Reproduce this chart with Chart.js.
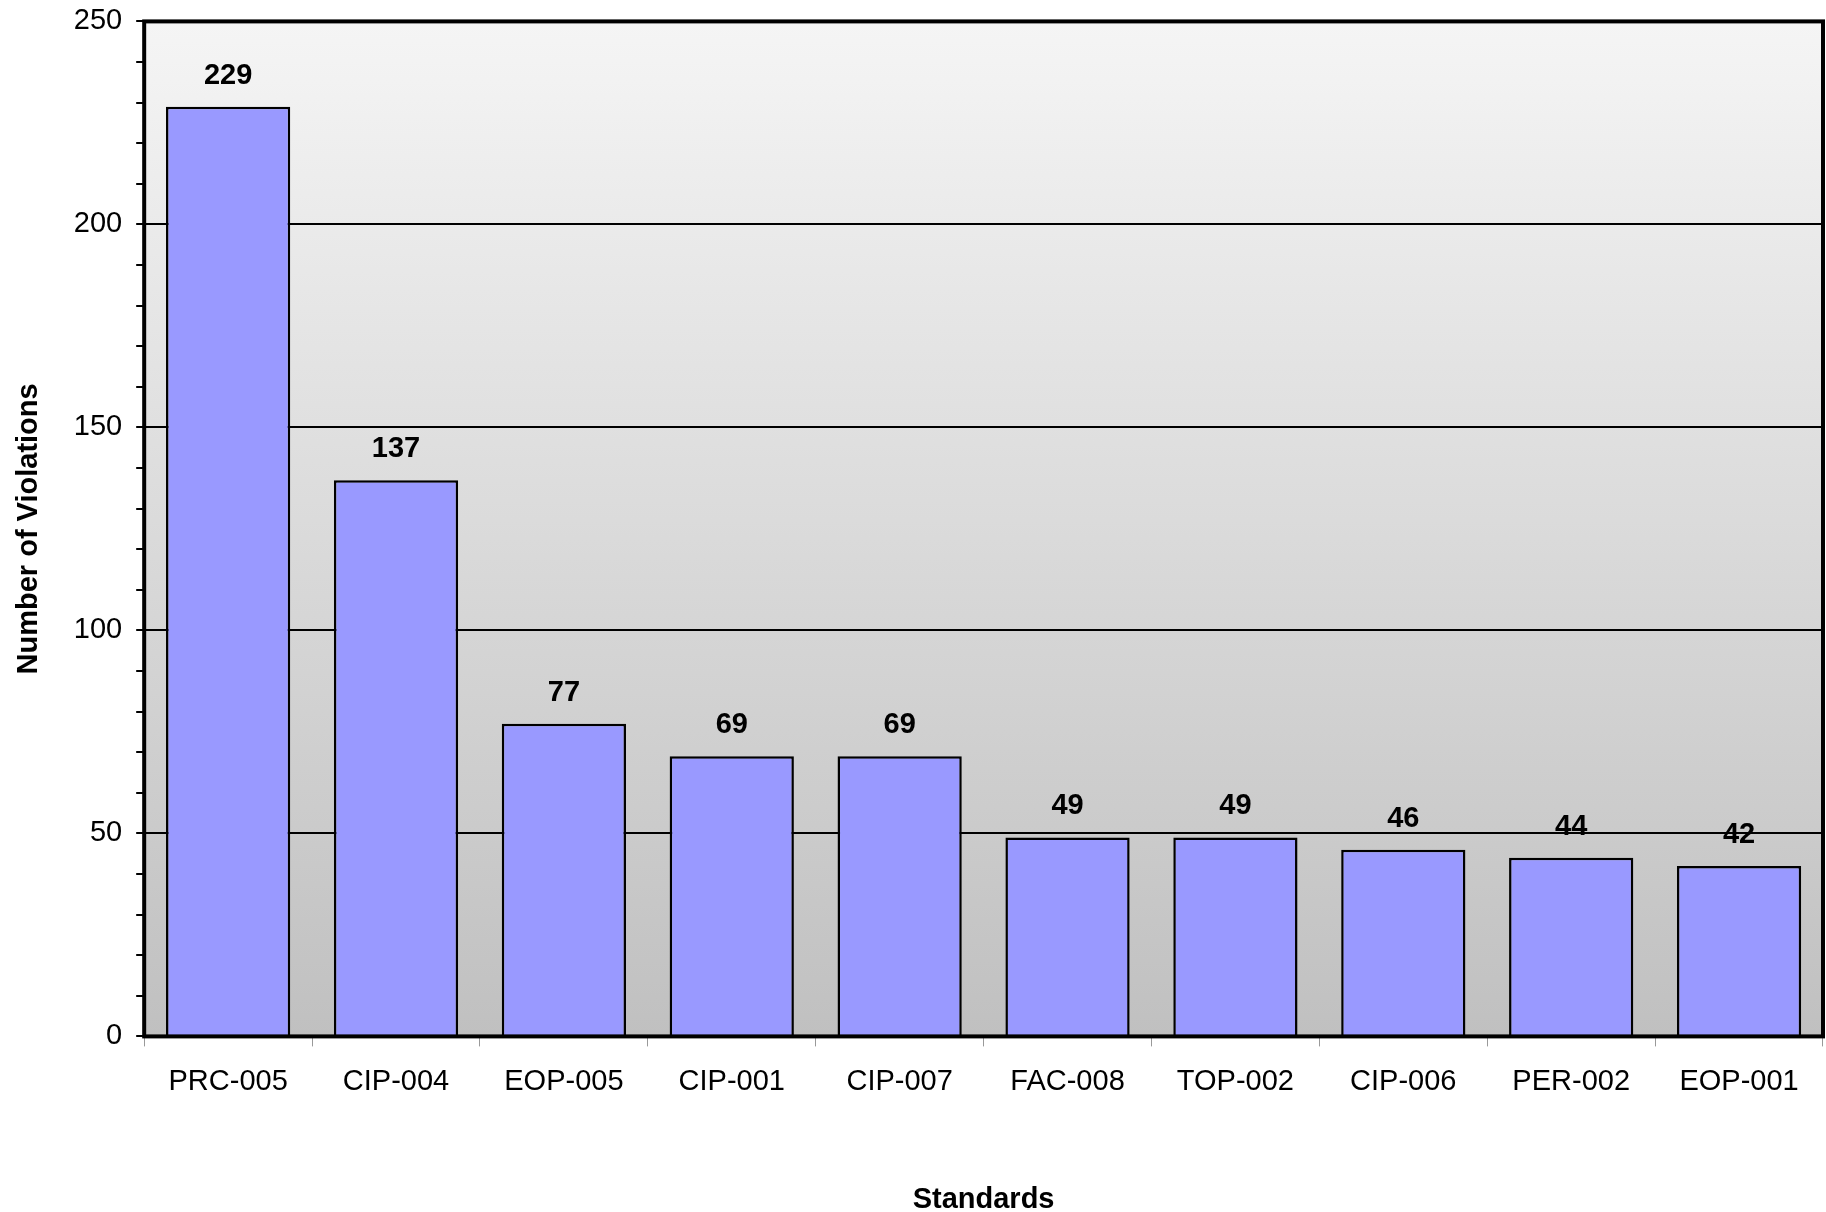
<!DOCTYPE html>
<html lang="en">
<head>
    <meta charset="UTF-8">
    <title>Violations by Standard</title>
    <script src="https://cdn.jsdelivr.net/npm/chart.js"></script>
    <style>
        html, body { margin: 0; padding: 0; background: #fff; overflow: hidden; }
        /* sobe o canvas 10px para o topo do grafico ficar rente a borda */
        .chart-box { width: 1826px; height: 1222px; margin-top: -10px; }
    </style>
</head>
<body>
<div class="chart-box">
    <canvas id="graficoViolacoes"></canvas>
</div>
<script>
    const categorias = ['PRC-005', 'CIP-004', 'EOP-005', 'CIP-001', 'CIP-007', 'FAC-008', 'TOP-002', 'CIP-006', 'PER-002', 'EOP-001'];
    const violacoes = [229, 137, 77, 69, 69, 49, 49, 46, 44, 42];
    const yMax = 250;

    const fonte = "'Liberation Sans', Arial, sans-serif";

    // fundo em degrade e moldura da area do grafico
    const molduraPlugin = {
        id: 'moldura',
        beforeDraw(chart) {
            const { ctx, chartArea: a } = chart;
            const g = ctx.createLinearGradient(0, a.top, 0, a.bottom);
            g.addColorStop(0, '#f5f5f5');
            g.addColorStop(1, '#c0c0c0');
            ctx.save();
            ctx.fillStyle = g;
            ctx.fillRect(a.left, a.top, a.right - a.left, a.bottom - a.top);
            ctx.restore();
        },
        afterDatasetsDraw(chart) {
            const { ctx, chartArea: a } = chart;
            ctx.save();
            ctx.strokeStyle = '#000';
            ctx.lineWidth = 4;
            ctx.strokeRect(a.left, a.top, a.right - a.left, a.bottom - a.top);
            ctx.restore();
        }
    };

    // valores em cima das barras
    const rotulosPlugin = {
        id: 'rotulos',
        afterDatasetsDraw(chart) {
            const { ctx } = chart;
            const meta = chart.getDatasetMeta(0);
            ctx.save();
            ctx.font = `bold 29px ${fonte}`;
            ctx.fillStyle = '#000';
            ctx.textAlign = 'center';
            ctx.textBaseline = 'middle';
            meta.data.forEach((bar, i) => {
                ctx.fillText(violacoes[i], bar.x, bar.y - 31);
            });
            ctx.restore();
        }
    };

    new Chart(document.getElementById('graficoViolacoes'), {
        type: 'bar',
        data: {
            labels: categorias,
            datasets: [{
                label: 'Number of Violations',
                data: violacoes,
                backgroundColor: '#9999ff',
                borderColor: '#000',
                borderWidth: 2.5,
                barPercentage: 0.74,
                categoryPercentage: 1
            }]
        },
        options: {
            responsive: true,
            maintainAspectRatio: false,
            animation: false,
            layout: { padding: { top: 8, right: 3, left: 12, bottom: -5 } },
            plugins: {
                legend: { display: false },
                tooltip: { enabled: false }
            },
            scales: {
                x: {
                    border: { display: false },
                    grid: {
                        offset: true,
                        drawOnChartArea: false,
                        tickColor: '#999',
                        tickLength: 10
                    },
                    ticks: { color: '#000', padding: 18, font: { family: fonte, size: 29 } },
                    title: {
                        display: true,
                        text: 'Standards',
                        color: '#000',
                        padding: { top: 65, bottom: 0 },
                        font: { family: fonte, size: 29, weight: 'bold' }
                    }
                },
                y: {
                    min: 0,
                    max: yMax,
                    border: { display: false },
                    grid: {
                        color: ctx => ctx.tick && ctx.tick.value % 50 === 0 ? '#000' : 'rgba(0,0,0,0)',
                        tickColor: '#000',
                        lineWidth: 2,
                        tickLength: 8
                    },
                    ticks: {
                        stepSize: 10,
                        maxTicksLimit: 40,
                        autoSkip: false,
                        color: '#000',
                        padding: 14,
                        font: { family: fonte, size: 29 },
                        callback: v => v % 50 === 0 ? v : ''
                    },
                    title: {
                        display: true,
                        text: 'Number of Violations',
                        color: '#000',
                        padding: { top: 0, bottom: 13 },
                        font: { family: fonte, size: 29, weight: 'bold' }
                    }
                }
            }
        },
        plugins: [molduraPlugin, rotulosPlugin]
    });
</script>
</body>
</html>
